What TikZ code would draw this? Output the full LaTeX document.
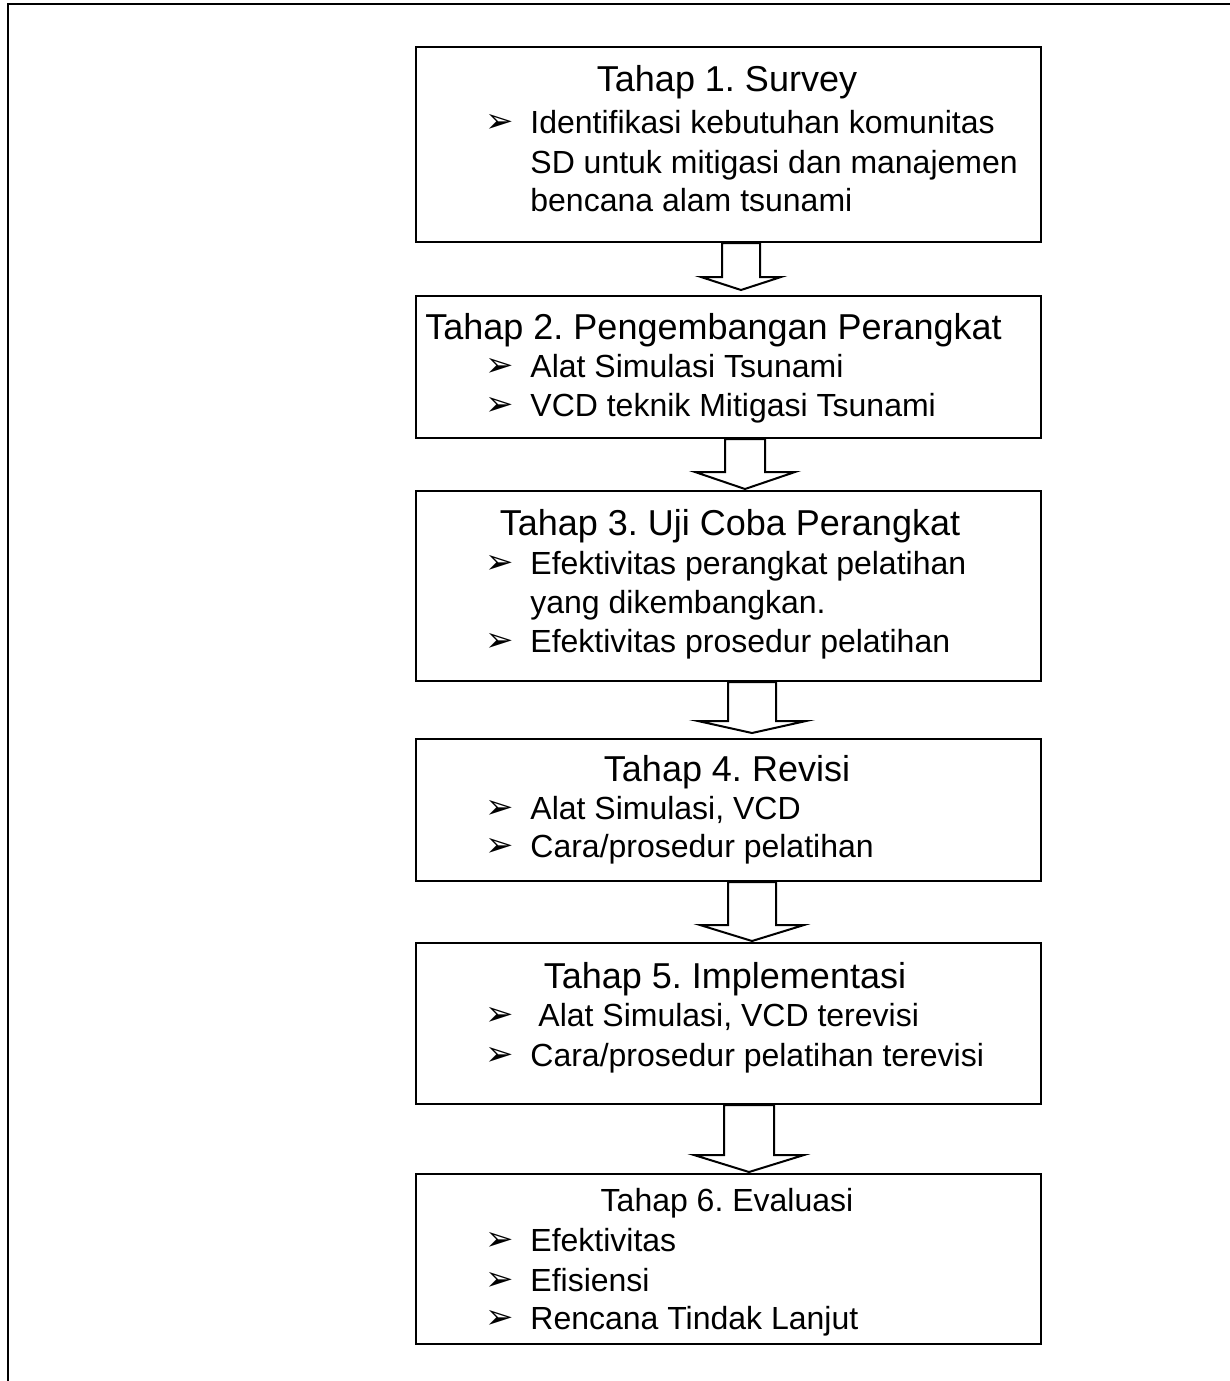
\documentclass[tikz,border=0pt]{standalone}
\usepackage{fontspec}
\setmainfont{Liberation Sans}
\newfontfamily\symfont{DejaVu Sans}
\usetikzlibrary{calc}
\frenchspacing
\tikzset{
  box/.style={draw=black, line width=1pt, fill=white, inner sep=0pt, anchor=north west},
  ttl/.style={anchor=base, inner sep=0pt, font=\fontsize{18}{20}\selectfont},
  ttlsmall/.style={anchor=base, inner sep=0pt, font=\fontsize{16}{18}\selectfont},
  itm/.style={anchor=base west, inner sep=0pt, font=\fontsize{16}{18}\selectfont},
  bul/.style={anchor=base west, inner sep=0pt, font=\symfont\fontsize{17}{19}\selectfont},
  arrowbox/.style={draw=black, line width=1pt, fill=white, line join=miter},
  frame/.style={draw=black, line width=1pt}
}
% #1 from, #2 to, #3 x centre, #4 shaft half width, #5 head half width, #6 head length, #7 gap
\newcommand{\barrow}[7]{%
  \draw[arrowbox] let \p1=(#1.south), \p2=(#2.north) in
    ({(#3-#4)*0.5pt},\y1) -- ({(#3+#4)*0.5pt},\y1)
    -- ({(#3+#4)*0.5pt},{\y2+(#6+#7)*0.5pt}) -- ({(#3+#5)*0.5pt},{\y2+(#6+#7)*0.5pt})
    -- ({#3*0.5pt},{\y2+#7*0.5pt})
    -- ({(#3-#5)*0.5pt},{\y2+(#6+#7)*0.5pt}) -- ({(#3-#4)*0.5pt},{\y2+(#6+#7)*0.5pt}) -- cycle;}
\newcommand{\bx}[4]{% name, top, bottom, dummy
  \node[box, minimum width=312.5pt, minimum height={(#3-#2)*0.5pt}] (#1) at (415,#2) {};}
\begin{document}
\begin{tikzpicture}[x=0.5pt, y=-0.5pt]
\useasboundingbox (0,0) rectangle (1230,1381);
\draw[frame] (8,1381) -- (8,3.5) -- (1230,3.5);

% boxes
\bx{b1}{46}{241}{}
\bx{b2}{295}{437}{}
\bx{b3}{490}{680}{}
\bx{b4}{738}{880}{}
\bx{b5}{942}{1103}{}
\bx{b6}{1173}{1343}{}

% arrows
\barrow{b1}{b2}{741}{19}{40}{13}{5}
\barrow{b2}{b3}{745}{20}{50}{17}{1}
\barrow{b3}{b4}{752}{24}{54}{12}{5}
\barrow{b4}{b5}{752}{24}{52}{16}{1}
\barrow{b5}{b6}{749}{25}{55}{17}{1}

% box 1
\node[ttl] (t1) at (727,91) {Tahap 1. Survey};
\node[bul] (p1a) at (485,132) {➢};
\node[itm] (i1a) at (530,133) {Identifikasi kebutuhan komunitas};
\node[itm] (i1b) at (530,173) {SD untuk mitigasi dan manajemen};
\node[itm] (i1c) at (530,211) {bencana alam tsunami};

% box 2
\node[ttl, anchor=base west] (t2) at (425,339) {Tahap 2. Pengembangan Perangkat};
\node[bul] (p2a) at (485,376) {➢};
\node[itm] (i2a) at (530,377) {Alat Simulasi Tsunami};
\node[bul] (p2b) at (485,415) {➢};
\node[itm] (i2b) at (530,416) {VCD teknik Mitigasi Tsunami};

% box 3
\node[ttl] (t3) at (730,535) {Tahap 3. Uji Coba Perangkat};
\node[bul] (p3a) at (485,573) {➢};
\node[itm] (i3a) at (530,574) {Efektivitas perangkat pelatihan};
\node[itm] (i3b) at (530,613) {yang dikembangkan.};
\node[bul] (p3c) at (485,651) {➢};
\node[itm] (i3c) at (530,652) {Efektivitas prosedur pelatihan};

% box 4
\node[ttl] (t4) at (727,781) {Tahap 4. Revisi};
\node[bul] (p4a) at (485,818) {➢};
\node[itm] (i4a) at (530,819) {Alat Simulasi, VCD};
\node[bul] (p4b) at (485,856) {➢};
\node[itm] (i4b) at (530,857) {Cara/prosedur pelatihan};

% box 5
\node[ttl] (t5) at (725,988) {Tahap 5. Implementasi};
\node[bul] (p5a) at (485,1025) {➢};
\node[itm] (i5a) at (538,1026) {Alat Simulasi, VCD terevisi};
\node[bul] (p5b) at (485,1065) {➢};
\node[itm] (i5b) at (530,1066) {Cara/prosedur pelatihan terevisi};

% box 6
\node[ttlsmall] (t6) at (727,1211) {Tahap 6. Evaluasi};
\node[bul] (p6a) at (485,1250) {➢};
\node[itm] (i6a) at (530,1251) {Efektivitas};
\node[bul] (p6b) at (485,1290) {➢};
\node[itm] (i6b) at (530,1291) {Efisiensi};
\node[bul] (p6c) at (485,1328) {➢};
\node[itm] (i6c) at (530,1329) {Rencana Tindak Lanjut};
\end{tikzpicture}
\end{document}
